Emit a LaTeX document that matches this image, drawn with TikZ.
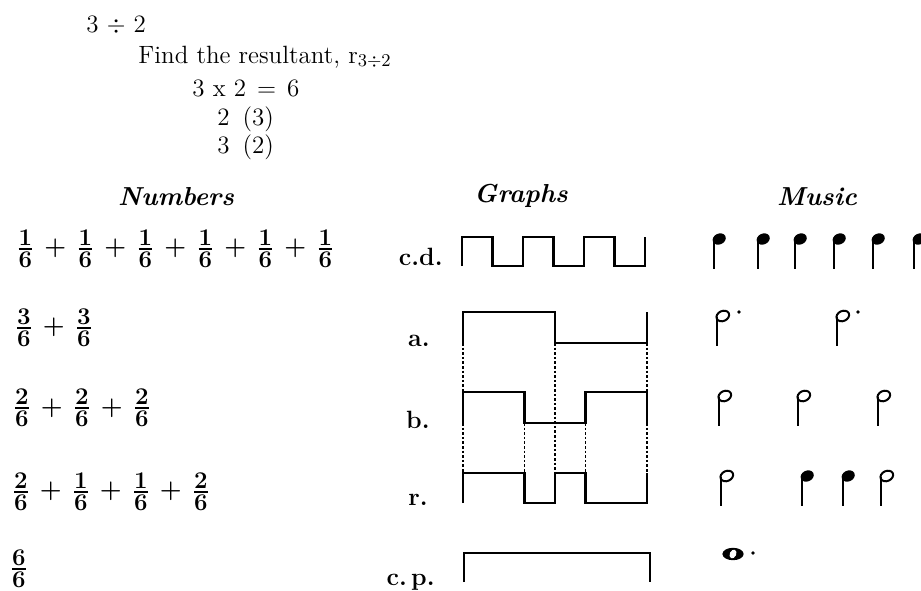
\documentclass[tikz,border=0pt]{standalone}
\usepackage{amsmath}
\newcommand\fr[1]{\makebox[7pt]{$\genfrac{}{}{0.9pt}{1}{\textstyle\mathbf{#1}}{\textstyle\mathbf{6}}$}}
\newcommand\pl{\makebox[23pt]{\fontsize{12.5}{13}\selectfont\bfseries +}}
\newcommand\mqn[2]{%
  \fill (#1+6.2,#2) circle[x radius=3.4pt, y radius=2.7pt, rotate=25];
  \draw[stemline] (#1+0.5,#2+1) -- (#1+0.5,#2+30);}
\newcommand\mhn[2]{%
  \draw[line width=1pt] (#1+6.8,#2) circle[x radius=3.3pt, y radius=2.5pt, rotate=25];
  \draw[stemline] (#1+0.5,#2+1) -- (#1+0.5,#2+30);}
\begin{document}
\begin{tikzpicture}[x=0.5pt,y=-0.5pt,
  wave/.style={line width=1.4pt, line join=miter},
  guide/.style={line width=0.9pt, dash pattern=on 1.3pt off 1pt},
  toptext/.style={font=\fontsize{12.5}{14}\selectfont, inner sep=0pt, anchor=base west},
  heading/.style={font=\fontsize{13}{15}\selectfont\bfseries\itshape, inner sep=0pt, anchor=base},
  lab/.style={font=\fontsize{12.5}{14}\selectfont\bfseries, inner sep=0pt, anchor=base east},
  fracrow/.style={font=\fontsize{11.5}{13}\selectfont, inner sep=0pt, anchor=west},
  stemline/.style={line width=1pt},
  dotmark/.style={fill=black}]
\useasboundingbox (0,0) rectangle (921,590);
\clip (0,0) rectangle (921,590);

% top text
\node[toptext] (t1) at (86,32) {3 $\div$ 2};
\node[toptext] (t2) at (138,63) {Find the resultant, r$_{3\div2}$};
\node[toptext] (t3) at (192,96) {3 x 2\hspace{5.5pt}=\hspace{5.5pt}6};
\node[toptext] (t4) at (217,125) {2\hspace{6.5pt}(3)};
\node[toptext] (t5) at (217,153) {3\hspace{6.5pt}(2)};

% headings
\node[heading] (hn) at (176,205) {Numbers};
\node[heading] (hg) at (521,202) {Graphs};
\node[heading] (hm) at (817,205) {Music};

% fraction rows
\node[fracrow] (r1) at (18,248.5) {\fr{1}\pl\fr{1}\pl\fr{1}\pl\fr{1}\pl\fr{1}\pl\fr{1}};
\node[fracrow] (r2) at (16.5,327.5) {\fr{3}\pl\fr{3}};
\node[fracrow] (r3) at (14.5,408) {\fr{2}\pl\fr{2}\pl\fr{2}};
\node[fracrow] (r4) at (13.5,491.5) {\fr{2}\pl\fr{1}\pl\fr{1}\pl\fr{2}};
\node[fracrow] (r5) at (11.5,569) {\fr{6}};

% graph labels
\node[lab] (lcd) at (443,265) {c.d.};
\node[lab] (la) at (430,346) {a.};
\node[lab] (lb) at (430,428) {b.};
\node[lab] (lr) at (428,505) {r.};
\node[lab] (lcp) at (435,585) {c.\,p.};

% graphs
\draw[wave] (462,266) -- (462,237) -- (492.5,237) -- (492.5,266) -- (523,266) -- (523,237)
  -- (553.5,237) -- (553.5,266) -- (584,266) -- (584,237) -- (614.5,237) -- (614.5,266)
  -- (645,266) -- (645,237);
\draw[wave] (463,343) -- (463,312) -- (555,312) -- (555,343) -- (647,343) -- (647,312);
\draw[wave] (463,423) -- (463,392) -- (524.5,392) -- (524.5,423) -- (585.5,423) -- (585.5,392)
  -- (647,392) -- (647,423);
\draw[wave] (463,503) -- (463,473) -- (524.5,473) -- (524.5,503) -- (555,503) -- (555,473)
  -- (585.5,473) -- (585.5,503) -- (647,503) -- (647,473);
\draw[wave] (464,582) -- (464,553) -- (650,553) -- (650,582);

% dotted guides
\draw[guide] (463,343) -- (463,392);
\draw[guide] (463,423) -- (463,473);
\draw[guide] (555,343) -- (555,473);
\draw[guide] (524.5,423) -- (524.5,473);
\draw[guide] (585.5,423) -- (585.5,473);
\draw[guide] (647,343) -- (647,392);
\draw[guide] (647,423) -- (647,473);

% music
\mqn{713}{239}\mqn{757}{239}\mqn{794}{239}\mqn{833}{239}\mqn{872}{239}\mqn{913}{239}
\mhn{716}{316}\fill[dotmark] (739,312) circle[radius=0.9pt];
\mhn{836}{316}\fill[dotmark] (858,312) circle[radius=0.9pt];
\mhn{718}{396}\mhn{797}{396}\mhn{877}{396}
\mhn{720}{476}\mqn{801}{476}\mqn{842}{476}\mhn{880}{476}
\fill (733,554) circle[x radius=5.3pt, y radius=3.1pt];
\fill[white] (733,554) circle[x radius=1.6pt, y radius=2.3pt, rotate=-25];
\fill[dotmark] (753,553) circle[radius=0.9pt];
\end{tikzpicture}
\end{document}
